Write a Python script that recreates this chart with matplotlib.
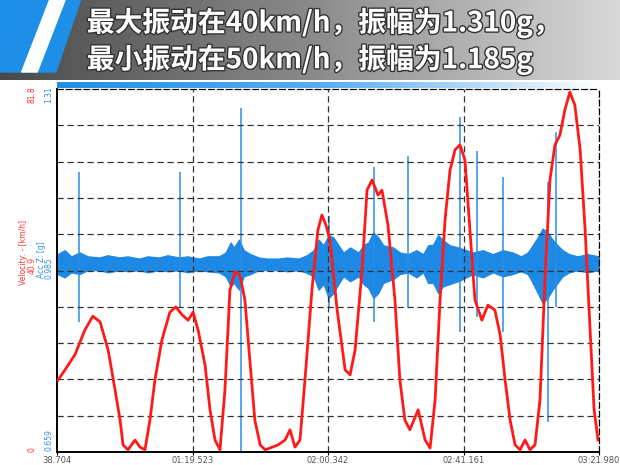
import numpy as np
import matplotlib
matplotlib.use("Agg")
import matplotlib.pyplot as plt
from matplotlib.patches import Polygon
import matplotlib.patheffects as pe

plt.rcParams["font.family"] = ["Noto Sans CJK SC", "DejaVu Sans"]

T0, T1 = 38.704, 201.980
V_MAX = 81.8
A_MIN, A_MAX = 0.659, 1.31
tick_labels = ["38.704", "01:19.523", "02:00.342", "02:41.161", "03:21.980"]
tick_times = [38.704, 79.523, 120.342, 161.161, 201.980]

# velocity trace (time s, km/h)
vel_t = [39.0, 41.1, 44.1, 47.1, 49.5, 51.7, 54.1, 56.2, 57.7, 58.6,
         60.1, 62.2, 63.7, 65.2, 66.7, 68.2, 70.3, 72.7, 74.5, 76.4,
         78.2, 79.7, 81.2, 83.3, 84.8, 86.3, 87.8, 89.3, 90.8, 92.3,
         93.8, 95.3, 96.8, 98.3, 99.9, 101.4, 102.9, 105.3, 107.4, 108.9,
         110.4, 111.9, 113.4, 115.5, 117.3, 118.5, 119.7, 120.9, 123.1, 125.5,
         127.0, 128.5, 130.6, 132.1, 133.6, 135.4, 136.6, 138.4, 140.5, 142.0,
         143.5, 145.0, 147.5, 149.6, 151.1, 152.6, 154.1, 155.6, 157.1, 158.6,
         160.1, 161.6, 163.1, 164.6, 166.7, 168.5, 170.6, 172.2, 173.7, 175.2,
         176.7, 178.2, 179.7, 181.2, 182.7, 184.2, 185.7, 187.2, 188.7, 190.2,
         191.7, 193.2, 194.7, 196.3, 197.8, 199.3, 200.5, 201.7]
vel_v = [16.2, 18.5, 21.9, 27.5, 30.6, 29.3, 23.0, 14.0, 7.2, 1.6,
         0.5, 2.7, 1.1, 0.5, 7.2, 16.2, 25.2, 31.5, 32.7, 30.9,
         29.7, 31.5, 27.5, 19.6, 9.5, 2.7, 0.5, 14.0, 36.5, 40.6,
         39.9, 34.3, 20.7, 7.2, 1.6, 0.5, 0.9, 1.6, 2.7, 5.0,
         1.1, 2.7, 16.2, 36.5, 50.0, 53.4, 51.2, 47.8, 32.0, 18.5,
         17.4, 23.0, 41.0, 59.0, 61.3, 57.9, 59.0, 51.2, 34.3, 16.2,
         7.2, 5.0, 9.5, 2.7, 0.9, 11.7, 34.3, 52.3, 63.5, 68.1,
         69.2, 65.8, 50.0, 34.3, 29.7, 33.1, 32.0, 26.4, 16.2, 7.2,
         1.6, 0.5, 2.7, 0.5, 1.6, 11.7, 38.8, 61.3, 69.2, 71.4,
         77.1, 81.1, 78.2, 68.1, 50.0, 27.5, 9.5, 2.7]

# acceleration noise envelope (time s, upper g, lower g), read as a ragged band
env_t = [38.9, 41.0, 43.0, 45.5, 48.0, 51.5, 54.0, 57.5, 60.0, 63.5, 66.0, 69.5, 72.0, 75.5,
         78.0, 81.5, 84.0, 87.5, 89.5, 91.0, 92.0, 93.5, 95.0, 97.0, 99.5, 102.0, 105.5, 108.0,
         111.5, 114.0, 116.0, 117.5, 119.0, 120.5, 122.0, 123.5, 125.0, 127.0, 129.5, 131.0,
         132.5, 134.0, 135.5, 137.0, 140.0, 142.0, 144.5, 147.0, 149.0, 150.5, 152.0, 153.5,
         155.0, 157.0, 159.5, 162.0, 164.0, 167.0, 170.0, 173.0, 176.0, 178.5, 180.5, 182.0,
         183.5, 185.0, 186.5, 188.0, 189.5, 191.0, 193.0, 195.5, 198.5, 201.9]
env_hi = [1.014, 1.021, 1.010, 1.017, 1.010, 1.008, 1.012, 1.008, 1.010, 1.006, 1.010, 1.008,
          1.012, 1.008, 1.010, 1.006, 1.010, 1.010, 1.017, 1.035, 1.026, 1.040, 1.021, 1.014,
          1.008, 1.006, 1.006, 1.008, 1.006, 1.012, 1.021, 1.040, 1.030, 1.048, 1.044, 1.030,
          1.017, 1.026, 1.017, 1.030, 1.035, 1.053, 1.044, 1.030, 1.026, 1.017, 1.014, 1.021,
          1.014, 1.030, 1.031, 1.048, 1.039, 1.030, 1.026, 1.021, 1.017, 1.021, 1.014, 1.021,
          1.017, 1.010, 1.017, 1.030, 1.044, 1.060, 1.053, 1.040, 1.030, 1.021, 1.014, 1.010,
          1.014, 1.010]
env_lo = [0.978, 0.972, 0.981, 0.978, 0.985, 0.985, 0.981, 0.985, 0.983, 0.985, 0.981, 0.985,
          0.983, 0.985, 0.981, 0.985, 0.983, 0.981, 0.974, 0.956, 0.962, 0.950, 0.974, 0.978,
          0.985, 0.985, 0.985, 0.983, 0.985, 0.980, 0.974, 0.950, 0.960, 0.935, 0.944, 0.960,
          0.974, 0.965, 0.974, 0.960, 0.953, 0.935, 0.944, 0.962, 0.969, 0.978, 0.981, 0.972,
          0.981, 0.962, 0.962, 0.944, 0.956, 0.960, 0.965, 0.972, 0.978, 0.972, 0.981, 0.974,
          0.978, 0.983, 0.978, 0.962, 0.944, 0.926, 0.935, 0.950, 0.962, 0.974, 0.981, 0.985,
          0.981, 0.985]

# isolated spikes (time s, top g, bottom g)
spike_t = [45.2, 75.9, 94.0, 120.6, 134.2, 144.5, 160.1, 165.2, 173.0, 186.5, 188.9]
spike_hi = [1.162, 1.162, 1.276, 1.082, 1.171, 1.189, 1.260, 1.198, 1.153, 1.144, 1.233]
spike_lo = [0.892, 0.919, 0.659, 0.919, 0.892, 0.919, 0.874, 0.901, 0.874, 0.713, 0.919]

fig = plt.figure(figsize=(6.2, 4.65), dpi=100)
fig.patch.set_facecolor("white")

# banner
bax = fig.add_axes([0, 1 - 80 / 465, 1, 80 / 465])
grad = np.linspace(0, 1, 256)[None, :]
bax.imshow(grad, cmap=matplotlib.colors.LinearSegmentedColormap.from_list(
    "g", ["#4a4a4a", "#8a8a8a", "#d8d8d8"]), aspect="auto", extent=[0, 1, 0, 1])
bax.add_patch(Polygon([[0, 0.1], [0.09, 0.1], [0.13, 1], [0, 1]], color="#1e8fe6"))
bax.add_patch(Polygon([[0.035, 0.1], [0.06, 0.1], [0.105, 1], [0.08, 1]], color="white"))
bax.set_xlim(0, 1)
bax.set_ylim(0, 1)
bax.axis("off")
for y, s in [(0.72, "最大振动在40km/h，振幅为1.310g，"), (0.26, "最小振动在50km/h，振幅为1.185g")]:
    bax.text(0.14, y, s, color="white", fontsize=20, fontweight="bold", style="italic",
             va="center", path_effects=[pe.withStroke(linewidth=2, foreground="#333333")])

# thin blue strip above the plot
sax = fig.add_axes([57 / 620, 1 - 88 / 465, 542 / 620, 6 / 465])
sax.imshow(grad, cmap=matplotlib.colors.LinearSegmentedColormap.from_list(
    "b", ["#1e8fe6", "#5aaef0", "#ffffff"]), aspect="auto", extent=[0, 1, 0, 1])
sax.axis("off")

ax = fig.add_axes([57 / 620, 13 / 465, 542 / 620, 363 / 465])
ax2 = ax.twinx()
ax.set_xlim(T0, T1)
ax.set_ylim(0, V_MAX)
ax2.set_ylim(A_MIN, A_MAX)

ax2.fill_between(env_t, env_lo, env_hi, color="#1e88e5", lw=0.8)
ax2.vlines(spike_t, spike_lo, spike_hi, color="#2a8ee8", lw=1.1)
ax.plot(vel_t, vel_v, color="#ff1a1a", lw=2.0, zorder=5)
ax.set_zorder(ax2.get_zorder() + 1)
ax.patch.set_visible(False)

for k in range(1, 10):
    ax.axhline(V_MAX * k / 10, color="#333333", ls=(0, (5, 3)), lw=0.9, zorder=1)
for t in tick_times[1:]:
    ax.axvline(t, color="#333333", ls=(0, (5, 3)), lw=0.9, zorder=1)

ax.set_xticks(tick_times)
ax.set_xticklabels(tick_labels, fontsize=6, color="#555555", family="DejaVu Sans")
ax.tick_params(axis="x", length=2, pad=1)
ax.set_yticks([])
ax2.set_yticks([])
for a in (ax, ax2):
    a.spines["top"].set_linestyle((0, (5, 3)))
    a.spines["right"].set_linestyle((0, (5, 3)))
    a.spines["left"].set_linewidth(1.2)
    a.spines["bottom"].set_linewidth(1.2)

# vertical axis labels
fs = dict(fontsize=5.5, rotation=90, va="center", ha="center", family="DejaVu Sans")
fig.text(32 / 620, 1 - 95 / 465, "81.8", color="#ff3030", **fs)
fig.text(49 / 620, 1 - 95 / 465, "1.31", color="#3090e0", **fs)
fig.text(32 / 620, 1 - 450 / 465, "0", color="#ff3030", **fs)
fig.text(49 / 620, 1 - 440 / 465, "0.659", color="#3090e0", **fs)
fig.text(24 / 620, 1 - 252 / 465, "Velocity: - [km/h]", color="#ff3030", **fs)
fig.text(32 / 620, 1 - 265 / 465, "40.9", color="#ff3030", **fs)
fig.text(41 / 620, 1 - 260 / 465, "Acc Z: [g]", color="#3090e0", **fs)
fig.text(49 / 620, 1 - 268 / 465, "0.985", color="#3090e0", **fs)

fig.savefig("out.png", dpi=100)
